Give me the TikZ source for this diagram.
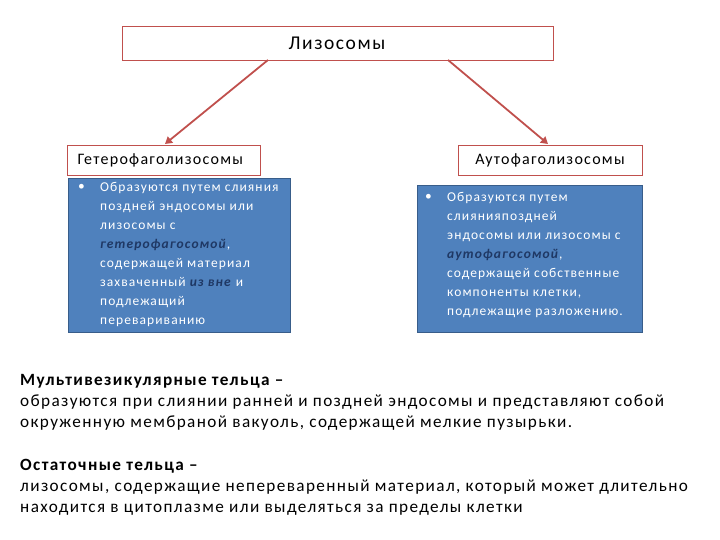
\documentclass[tikz,border=0pt]{standalone}
\usepackage{fontspec}
\setmainfont{Carlito}[LetterSpace=8]
\usetikzlibrary{arrows.meta}
\definecolor{rd}{HTML}{C0504D}
\definecolor{bl}{HTML}{4F81BD}
\definecolor{bld}{HTML}{385D8A}
\definecolor{ink}{HTML}{1F3864}
\begin{document}
\begin{tikzpicture}[x=1pt,y=1pt,
  redbox/.style={draw=rd,line width=1.2pt,fill=white,inner sep=0pt},
  bluebox/.style={draw=bld,line width=1pt,fill=bl,inner sep=0pt},
  arr/.style={draw=rd,line width=1.8pt,-{Triangle[length=7pt,width=8pt]}},
  lbl/.style={font=\fontsize{16}{18}\selectfont},
  body/.style={text=white,font=\fontsize{13.5}{19}\selectfont,align=left,anchor=north west,inner sep=0pt}]
\useasboundingbox (0,0) rectangle (720,540);
\node[redbox,minimum width=431,minimum height=34,anchor=north west] (top) at (122,514) {};
\node[lbl] (toptxt) at (337,497) {\fontsize{19.5}{21}\selectfont Лизосомы};
\node[redbox,minimum width=193,minimum height=30,anchor=north west] (l) at (67,395) {};
\node[lbl,anchor=west] at (74,380) {Гетерофаголизосомы};
\node[redbox,minimum width=184,minimum height=30,anchor=north west] (r) at (458,395) {};
\node[lbl] at (550,380) {Аутофаголизосомы};
\draw[arr] (268,480) -- (165,396);
\draw[arr] (448,480) -- (548,396);
\node[bluebox,minimum width=222,minimum height=154,anchor=north west] (lb) at (68,362) {};
\node[bluebox,minimum width=225,minimum height=147,anchor=north west] (rb) at (417,355) {};
\node[body] at (78,356) {•};
\node[body] at (100,358) {Образуются путем слияния\\поздней эндосомы или\\лизосомы с\\\textcolor{ink}{\textbf{\textit{гетерофагосомой}}},\\содержащей материал\\захваченный \textcolor{ink}{\textbf{\textit{из вне}}} и\\подлежащий\\перевариванию};
\node[body] at (425,346) {•};
\node[body] at (447,348) {Образуются путем\\слиянияпоздней\\эндосомы или лизосомы с\\\textcolor{ink}{\textbf{\textit{аутофагосомой}}},\\содержащей собственные\\компоненты клетки,\\подлежащие разложению.};
\node[anchor=north west,align=left,inner sep=0pt,font=\fontsize{17.2}{21}\selectfont] (t1) at (20,166) {\textbf{Мультивезикулярные тельца –}\\образуются при слиянии ранней и поздней эндосомы и представляют собой\\окруженную мембраной вакуоль, содержащей мелкие пузырьки.};
\node[anchor=north west,align=left,inner sep=0pt,font=\fontsize{17.2}{21}\selectfont] (t2) at (20,81) {\textbf{Остаточные тельца –}\\лизосомы, содержащие непереваренный материал, который может длительно\\находится в цитоплазме или выделяться за пределы клетки};
\end{tikzpicture}
\end{document}
